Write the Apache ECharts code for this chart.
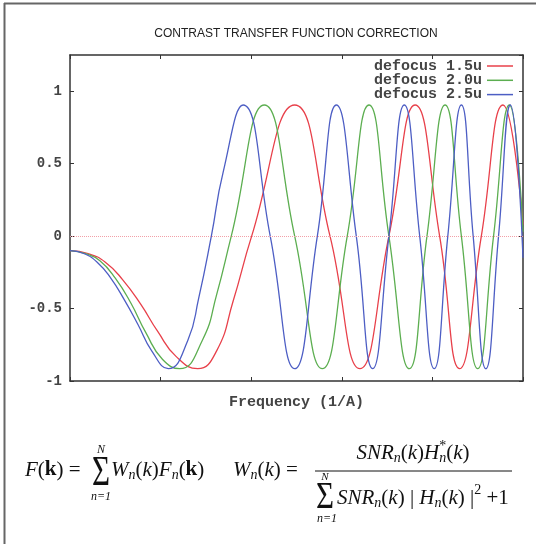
<!DOCTYPE html>
<html>
<head>
<meta charset="utf-8">
<script src="https://cdn.jsdelivr.net/npm/echarts@6/dist/echarts.min.js"></script>
<style>
  html, body { margin: 0; padding: 0; background: #fff; }
  #main { width: 536px; height: 544px; }
</style>
</head>
<body>
<div id="main"></div>
<script>
// values (frequency in plot units, CTF value)
var legendNames = ['defocus 1.5u', 'defocus 2.0u', 'defocus 2.5u'];
var yTicks = [-1, -0.5, 0, 0.5, 1];

var freq15 = [0, 0.20, 0.39, 0.58, 0.78, 0.97, 1.17, 1.41, 1.62, 1.80, 2.005, 2.48, 2.87, 3.20, 3.52, 3.81, 4.08, 4.30, 4.54, 4.78, 5.0];
var ctf15  = [-0.10, -0.12, -0.18, -0.30, -0.47, -0.66, -0.83, -0.915, -0.79, -0.45, 0, 0.905, 0, -0.915, 0, 0.905, 0, -0.915, 0, 0.905, 0.08];

var freq20 = [0, 0.17, 0.33, 0.50, 0.67, 0.84, 1.02, 1.21, 1.46, 1.62, 1.78, 2.145, 2.48, 2.785, 3.06, 3.30, 3.52, 3.745, 3.94, 4.14, 4.32, 4.50, 4.675, 4.85, 5.0];
var ctf20  = [-0.10, -0.12, -0.17, -0.29, -0.46, -0.67, -0.85, -0.915, -0.72, -0.40, 0, 0.905, 0, -0.915, 0, 0.905, 0, -0.915, 0, 0.905, 0, -0.915, 0, 0.905, 0.03];

var freq25 = [0, 0.15, 0.30, 0.45, 0.60, 0.75, 0.90, 1.085, 1.30, 1.42, 1.56, 1.69, 1.91, 2.21, 2.48, 2.73, 2.94, 3.16, 3.34, 3.52, 3.69, 3.86, 4.02, 4.17, 4.32, 4.45, 4.59, 4.73, 4.86, 5.0];
var ctf25  = [-0.10, -0.12, -0.18, -0.29, -0.44, -0.61, -0.79, -0.915, -0.72, -0.43, 0, 0.44, 0.905, 0, -0.915, 0, 0.905, 0, -0.915, 0, 0.905, 0, -0.915, 0, 0.905, 0, -0.915, 0, 0.905, -0.15];

var colors = ['#e8404a', '#5cae50', '#4d5ec4'];

function pairs(xs, ys) {
  return xs.map(function (x, i) { return [x, ys[i]]; });
}

// formula text laid out run by run, widths measured with a canvas
var ctx = document.createElement('canvas').getContext('2d');
function fontOf(p) {
  return (p.i ? 'italic ' : '') + (p.b ? 'bold ' : '') + (p.s || 21) + 'px "Liberation Serif"';
}
function widthOf(parts) {
  var w = 0;
  parts.forEach(function (p) {
    ctx.font = fontOf(p);
    if (!p.stay) w += ctx.measureText(p.t).width;
  });
  return w;
}
function runText(parts, x, y) {
  var els = [];
  parts.forEach(function (p) {
    var font = fontOf(p);
    ctx.font = font;
    els.push({
      type: 'text', x: x, y: y + (p.dy || 0), silent: true,
      style: { text: p.t, font: font, fill: '#111', align: 'left', verticalAlign: 'middle' }
    });
    if (!p.stay) x += ctx.measureText(p.t).width;
  });
  return els;
}
function centerText(t, x, y, size, italic, sy) {
  return {
    type: 'text', x: x, y: y, silent: true, scaleY: sy || 1,
    style: { text: t, font: (italic ? 'italic ' : '') + size + 'px "Liberation Serif"', fill: '#111', align: 'center', verticalAlign: 'middle' }
  };
}

var sub = { s: 14, i: true, dy: 5 };
function S(t, o) { var p = { t: t }; for (var k in o) p[k] = o[k]; return p; }

var f1a = [S('F', { i: true }), S('('), S('k', { b: true }), S(')'), S(' = ')];
var f1b = [S('W', { i: true }), S('n', sub), S('('), S('k', { i: true }), S(')'),
           S('F', { i: true }), S('n', sub), S('('), S('k', { b: true }), S(')')];
var f2a = [S('W', { i: true }), S('n', sub), S('('), S('k', { i: true }), S(')'), S(' = ')];
var f2num = [S('SNR', { i: true }), S('n', sub), S('('), S('k', { i: true }), S(')'),
             S('H', { i: true }), S('*', { s: 14, dy: -7, stay: true }), S('n', sub), S('('), S('k', { i: true }), S(')')];
var f2den = [S('SNR', { i: true }), S('n', sub), S('('), S('k', { i: true }), S(')'), S(' | '),
             S('H', { i: true }), S('n', sub), S('('), S('k', { i: true }), S(')'), S(' |'),
             S('2', { s: 14, dy: -8 }), S(' +1')];

var formulaEls = []
  .concat(runText(f1a, 25, 470))
  .concat([centerText('\u03A3', 101, 474, 31, false, 1.35), centerText('N', 101, 450, 12, true), centerText('n=1', 101, 497, 12, true)])
  .concat(runText(f1b, 111, 470))
  .concat(runText(f2a, 233, 470))
  .concat([{ type: 'line', silent: true, shape: { x1: 315, y1: 471, x2: 512, y2: 471 }, style: { stroke: '#111', lineWidth: 1 } }])
  .concat(runText(f2num, 413 - widthOf(f2num) / 2, 453))
  .concat([centerText('\u03A3', 325, 497.5, 31, false, 1.25), centerText('N', 325, 477, 11, true), centerText('n=1', 327, 519, 12, true)])
  .concat(runText(f2den, 337, 498));

var frameEls = [
  { type: 'line', silent: true, shape: { x1: 4, y1: 3.5, x2: 536, y2: 3.5 }, style: { stroke: '#666', lineWidth: 2 } },
  { type: 'line', silent: true, shape: { x1: 4.5, y1: 3, x2: 4.5, y2: 544 }, style: { stroke: '#666', lineWidth: 2 } }
];

var mono = '"Liberation Mono", "DejaVu Sans Mono", monospace';
var chart = echarts.init(document.getElementById('main'));

function frameLine() { return { show: true, onZero: false, lineStyle: { color: '#333', width: 1.5 } }; }
function innerTick() { return { show: true, inside: true, length: 4, lineStyle: { color: '#333', width: 1 } }; }

chart.setOption({
  animation: false,
  color: colors,
  title: {
    text: 'CONTRAST TRANSFER FUNCTION CORRECTION',
    left: 291, top: 23, textAlign: 'center',
    textStyle: { fontFamily: '"Liberation Sans", Arial, sans-serif', fontSize: 12, fontWeight: 'normal', color: '#222' }
  },
  legend: {
    data: legendNames,
    orient: 'vertical',
    right: 23, top: 58.5,
    padding: 0,
    align: 'right',
    icon: 'rect',
    itemWidth: 26, itemHeight: 1.5,
    itemGap: -0.7,
    selectedMode: false,
    textStyle: { fontFamily: mono, fontSize: 15, fontWeight: 'bold', color: '#444' }
  },
  grid: { left: 70, right: 13, top: 55, bottom: 163 },
  xAxis: [
    {
      type: 'value', min: 0, max: 5, interval: 1, position: 'bottom',
      name: 'Frequency (1/A)', nameLocation: 'middle', nameGap: 14,
      nameTextStyle: { fontFamily: mono, fontSize: 15, fontWeight: 'bold', color: '#444' },
      axisLine: frameLine(), axisTick: innerTick(), axisLabel: { show: false }, splitLine: { show: false }
    },
    {
      type: 'value', min: 0, max: 5, interval: 1, position: 'top',
      axisLine: frameLine(), axisTick: innerTick(), axisLabel: { show: false }, splitLine: { show: false }
    }
  ],
  yAxis: [
    {
      type: 'value', min: -1, max: 1.25, interval: 0.5, position: 'left',
      axisLine: frameLine(), axisTick: innerTick(), splitLine: { show: false },
      axisLabel: {
        margin: 8, showMaxLabel: false,
        fontFamily: mono, fontSize: 14, fontWeight: 'bold', color: '#444',
        formatter: function (v) { return yTicks.indexOf(v) >= 0 ? String(v) : ''; }
      }
    },
    {
      type: 'value', min: -1, max: 1.25, interval: 0.5, position: 'right',
      axisLine: frameLine(), axisTick: innerTick(), axisLabel: { show: false }, splitLine: { show: false }
    }
  ],
  series: [
    {
      name: legendNames[0], type: 'line', smooth: 0.5, showSymbol: false,
      data: pairs(freq15, ctf15),
      lineStyle: { width: 1.3 },
      markLine: {
        silent: true, symbol: 'none', label: { show: false },
        lineStyle: { color: '#f2a0a8', type: 'dotted', width: 1 },
        data: [{ yAxis: 0 }]
      }
    },
    {
      name: legendNames[1], type: 'line', smooth: 0.5, showSymbol: false,
      data: pairs(freq20, ctf20),
      lineStyle: { width: 1.3 }
    },
    {
      name: legendNames[2], type: 'line', smooth: 0.5, showSymbol: false,
      data: pairs(freq25, ctf25),
      lineStyle: { width: 1.3 }
    }
  ],
  graphic: frameEls.concat(formulaEls)
});
</script>
</body>
</html>
